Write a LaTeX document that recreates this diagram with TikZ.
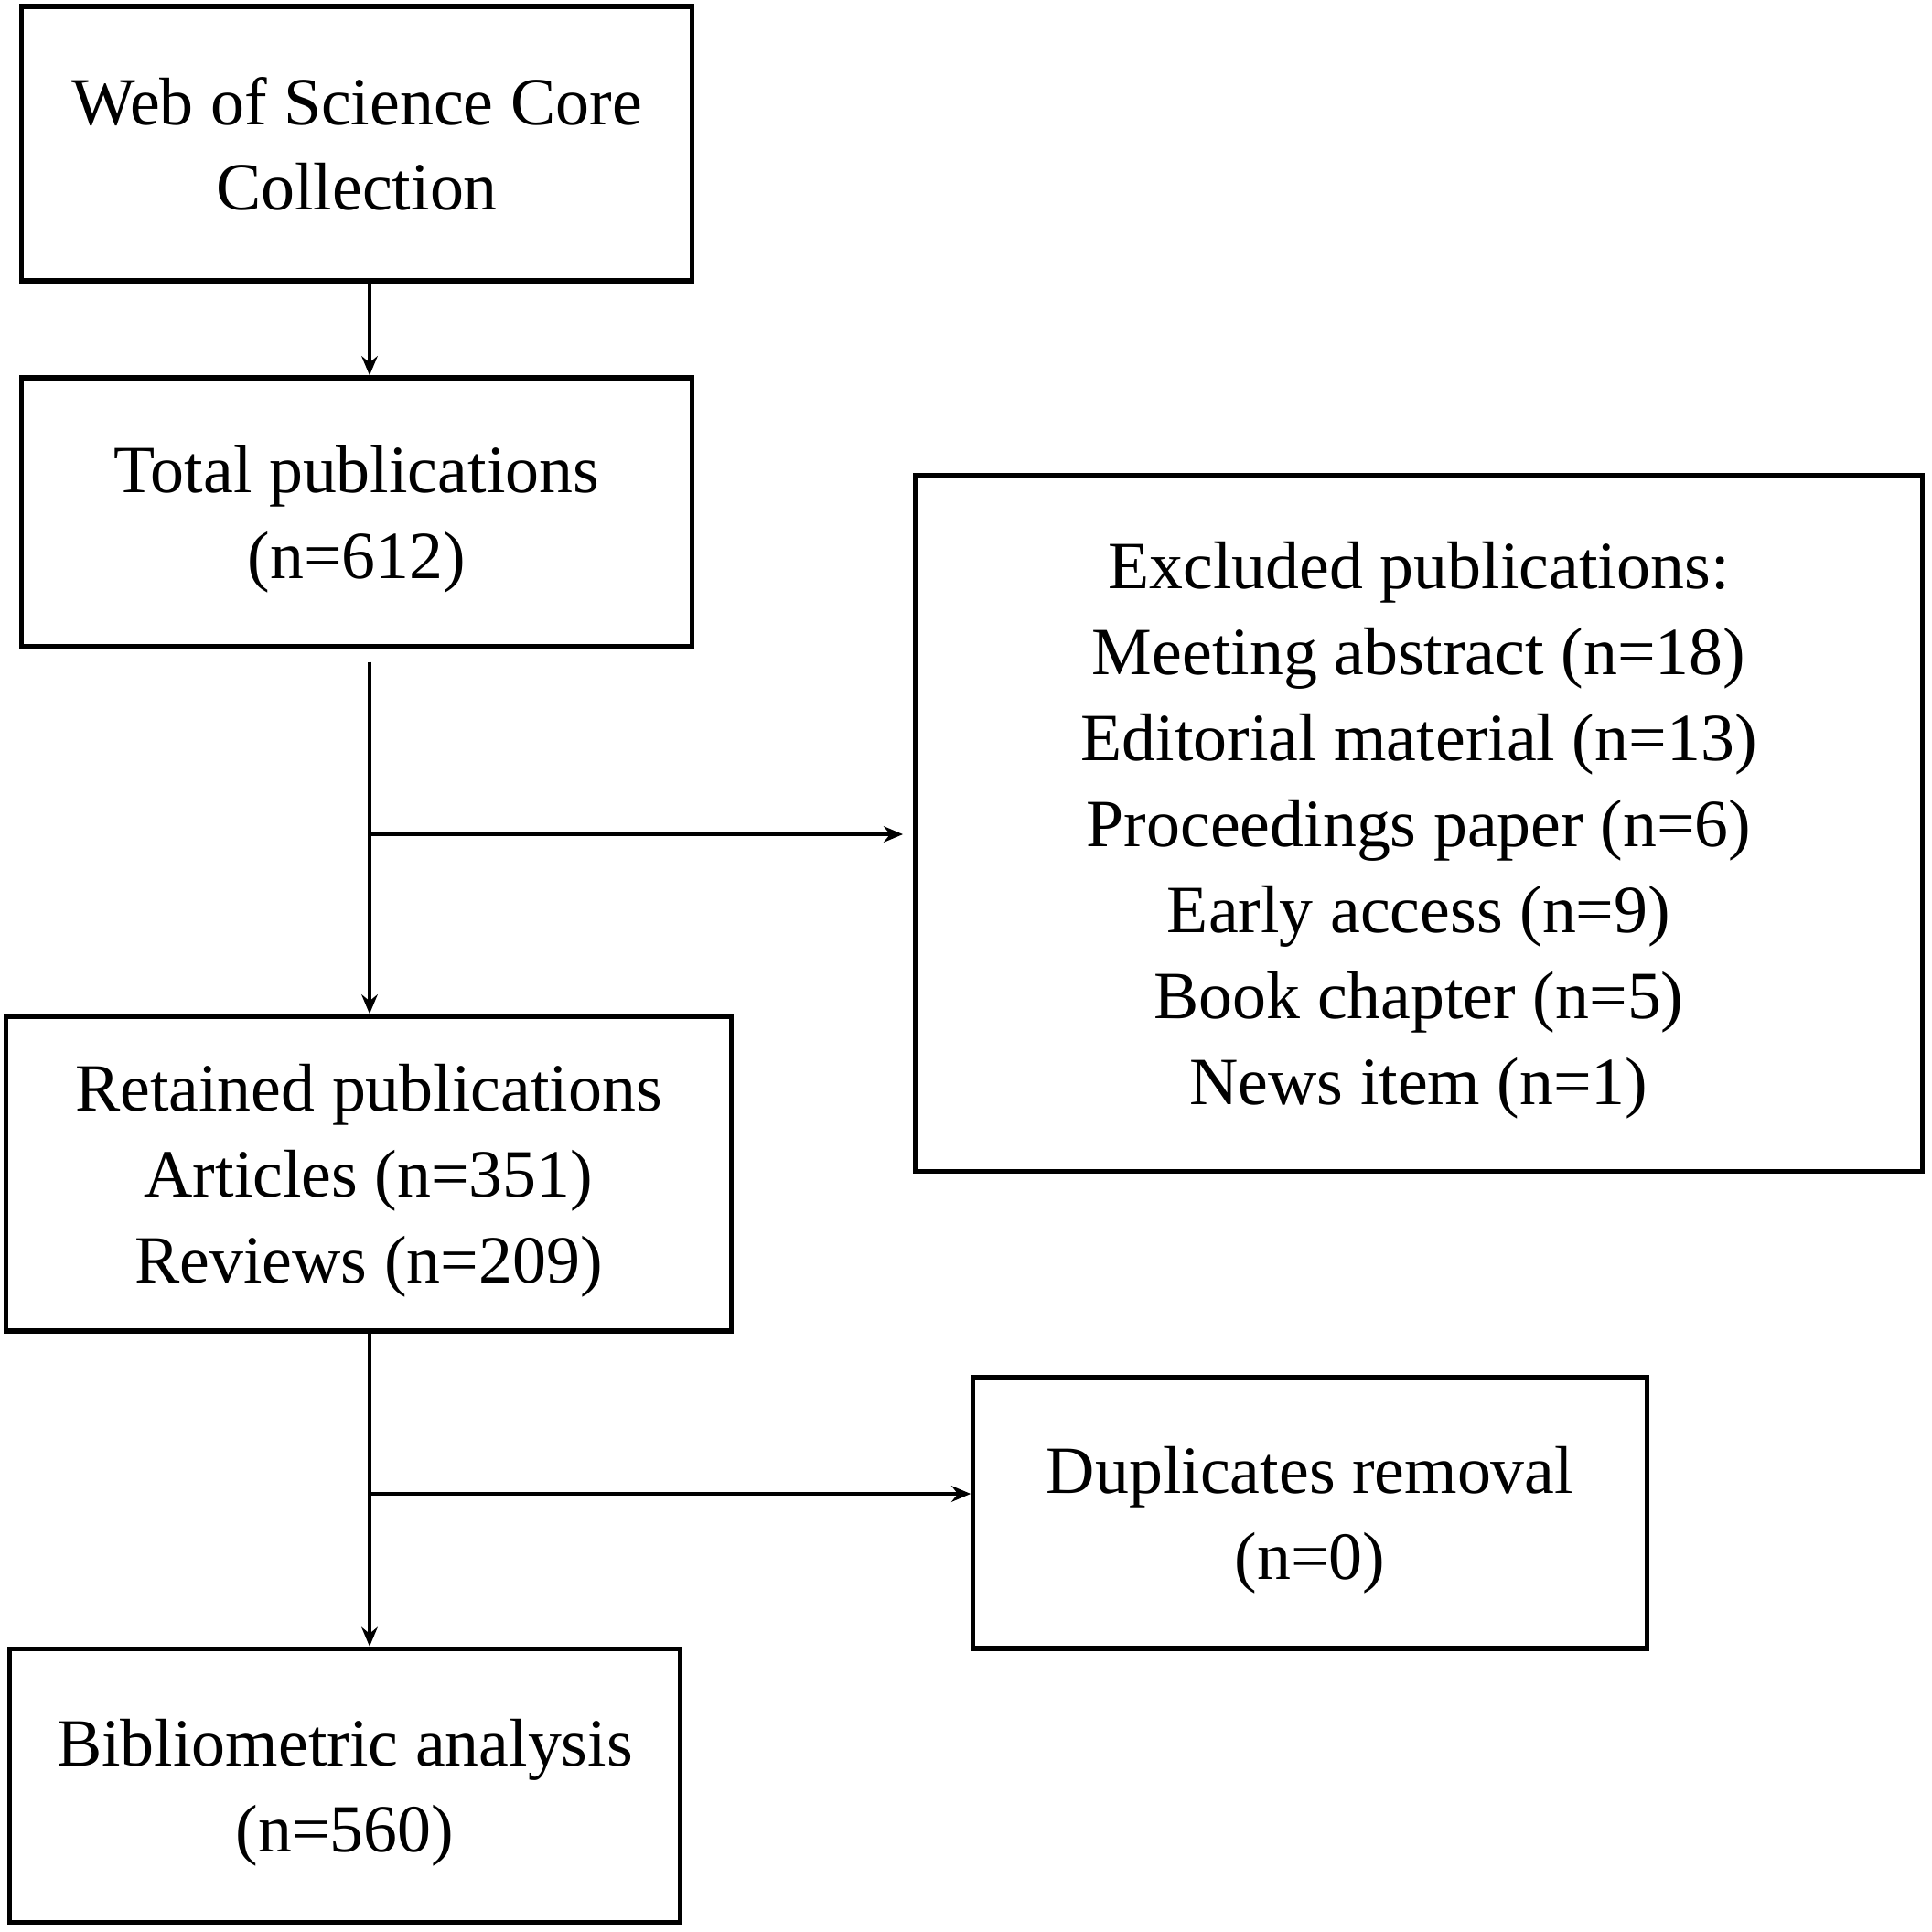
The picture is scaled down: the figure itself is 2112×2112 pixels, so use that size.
\documentclass[tikz,border=0pt]{standalone}
\usepackage{fontspec}
\setmainfont{Liberation Serif}
\usetikzlibrary{arrows.meta}
\begin{document}
\begin{tikzpicture}[x=0.01cm,y=-0.01cm,
  box/.style={draw=black, line width=1.5pt, rectangle, align=center, inner sep=0pt,
    text depth=0pt, font=\fontsize{21}{26.7}\selectfont},
  conn/.style={line width=1.2pt, draw=black},
  arr/.style={conn, -{Stealth[length=6pt,width=5pt,inset=2pt]}}]
\useasboundingbox (0,0) rectangle (2112,2112);
\coordinate (spine) at (404,0);
\node[box, minimum width=7.33cm, minimum height=3.00cm] (b1) at (390,157)
  {Web of Science Core\\Collection};
\node[box, minimum width=7.33cm, minimum height=2.94cm] (b2) at (390,560)
  {Total publications\\(n=612)};
\node[box, minimum width=11.00cm, minimum height=7.61cm] (b3) at (1551,900)
  {Excluded publications:\\Meeting abstract (n=18)\\Editorial material (n=13)\\Proceedings paper (n=6)\\Early access (n=9)\\Book chapter (n=5)\\News item (n=1)};
\node[box, minimum width=7.93cm, minimum height=3.44cm] (b4) at (403,1283)
  {Retained publications\\Articles (n=351)\\Reviews (n=209)};
\node[box, minimum width=7.36cm, minimum height=2.96cm] (b5) at (1432,1654)
  {Duplicates removal\\(n=0)};
\node[box, minimum width=7.33cm, minimum height=2.99cm] (b6) at (377,1952)
  {Bibliometric analysis\\(n=560)};
\coordinate (j1) at (404,912);
\coordinate (j2) at (404,1633);
\draw[arr] (b1.south -| spine) -- (b2.north -| spine);
\draw[arr] ([yshift=-0.14cm]b2.south -| spine) -- (b4.north -| spine);
\draw[arr] (j1) -- ([xshift=-0.11cm]b3.west |- j1);
\draw[arr] (b4.south -| spine) -- (b6.north -| spine);
\draw[arr] (j2) -- (b5.west |- j2);
\end{tikzpicture}
\end{document}
